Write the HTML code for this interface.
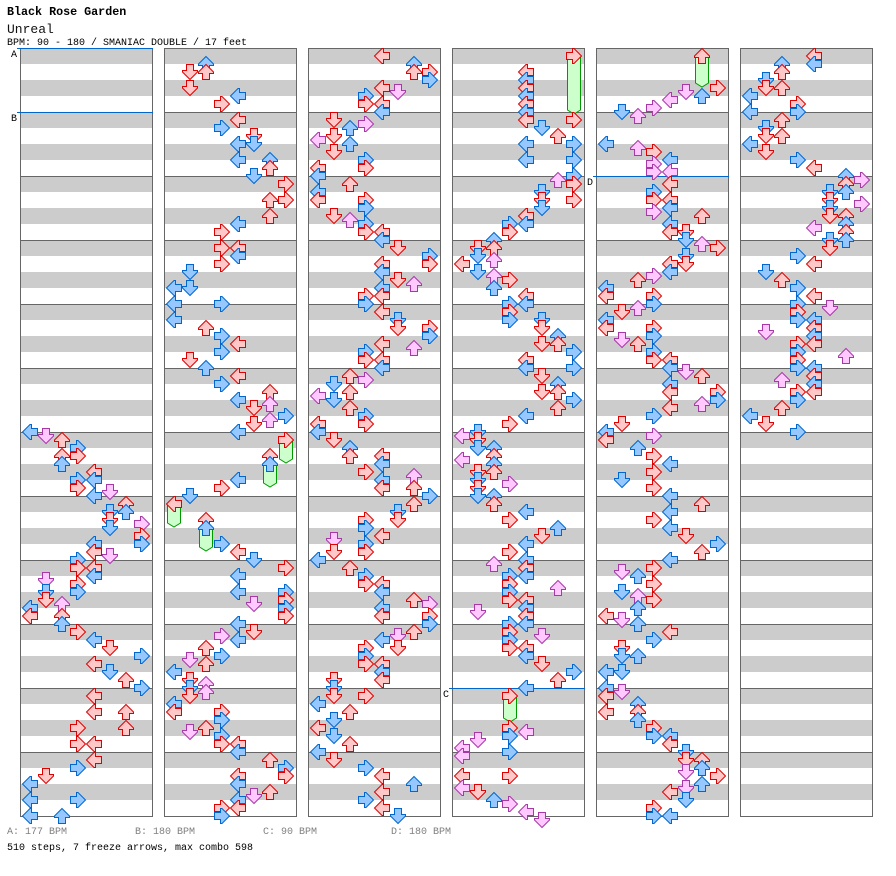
<!DOCTYPE html>
<html>
<head>
<meta charset="utf-8">
<style>
html,body{margin:0;padding:0;background:#fff;width:896px;height:876px;overflow:hidden}
svg{display:block}
text{font-family:"Liberation Mono","DejaVu Sans Mono",monospace}
</style>
</head>
<body>
<svg width="896" height="876" viewBox="0 0 896 876" xmlns="http://www.w3.org/2000/svg">
<defs>
<pattern id="st" x="0" y="48" width="1000" height="32" patternUnits="userSpaceOnUse"><rect width="1000" height="16" fill="#cccccc"/></pattern>
<pattern id="ml" x="0" y="48" width="1000" height="64" patternUnits="userSpaceOnUse"><rect width="1000" height="1" fill="#666666"/></pattern>
<g id="col">
<rect x="20" y="48" width="133" height="769" fill="#ffffff"/>
<rect x="20" y="48" width="133" height="768" fill="url(#st)"/>
<rect x="20" y="48" width="133" height="769" fill="url(#ml)"/>
<rect x="20.5" y="48.5" width="132" height="768" fill="none" stroke="#666666"/>
</g>
<path id="r" d="M0,-7.5L7.5,0V1.5H3.5V7.5H-3.5V1.5H-7.5V0Z" fill="#ffc8c8" stroke="#e00000"/>
<path id="b" d="M0,-7.5L7.5,0V1.5H3.5V7.5H-3.5V1.5H-7.5V0Z" fill="#96c8ff" stroke="#0066d0"/>
<path id="p" d="M0,-7.5L7.5,0V1.5H3.5V7.5H-3.5V1.5H-7.5V0Z" fill="#ffc8ff" stroke="#a838a8"/>
</defs>

<text x="7" y="15" font-size="11.7" font-weight="bold" fill="#000">Black Rose Garden</text>
<text x="7" y="33" font-size="13" fill="#111">Unreal</text>
<text x="7" y="45" font-size="10" fill="#000">BPM: 90 - 180 / SMANIAC DOUBLE / 17 feet</text>

<use href="#col" x="0"/>
<use href="#col" x="144"/>
<use href="#col" x="288"/>
<use href="#col" x="432"/>
<use href="#col" x="576"/>
<use href="#col" x="720"/>

<rect x="17" y="48" width="136" height="1" fill="#0066cc"/>
<rect x="17" y="112" width="136" height="1" fill="#0066cc"/>
<rect x="449" y="688" width="136" height="1" fill="#0066cc"/>
<rect x="593" y="176" width="136" height="1" fill="#0066cc"/>
<text x="11" y="57" font-size="10" fill="#000">A</text>
<text x="11" y="121" font-size="10" fill="#000">B</text>
<text x="443" y="697" font-size="10" fill="#000">C</text>
<text x="587" y="185" font-size="10" fill="#000">D</text>

<g id="arrows"></g>

<text x="7" y="834" font-size="10" fill="#808080">A: 177 BPM</text>
<text x="135" y="834" font-size="10" fill="#808080">B: 180 BPM</text>
<text x="263" y="834" font-size="10" fill="#808080">C: 90 BPM</text>
<text x="391" y="834" font-size="10" fill="#808080">D: 180 BPM</text>
<text x="7" y="850" font-size="10" fill="#000">510 steps, 7 freeze arrows, max combo 598</text>
</svg>

<script>
(function(){
var D = [
"432:0 436:1 440:2 448:3 456:23 464:2 472:4 480:34 488:3 492:5 496:4 504:6 512:56 520:5 524:7 528:5 536:7 544:47 552:4 556:5 560:3 568:34 576:4 580:1 584:3 592:13 600:1 604:2 608:0 616:02 624:2 632:3 640:4 648:5 656:7 664:4 672:5 680:6 688:7 696:4 712:46 728:36 744:34 760:4 768:3 776:1 784:0 800:03 816:02",
"64:2 72:12 88:1 96:4 104:3 120:4 128:3 136:5 144:45 160:46 168:6 176:5 184:7 200:67 216:6 224:4 232:3 248:34 256:4 264:3 272:1 288:01 304:03 320:0 328:2 336:3 344:4 352:3 360:1 368:2 376:4 384:3 392:6 400:4 404:6 408:5 416:7 420:6 424:5 432:4 440:7 456:6 464:6 480:4 488:3 496:1 504:0 520:2 528:2 544:3 552:4 560:5 568:7 576:4 592:47 600:7 604:5 608:7 616:7 624:4 632:5 636:3 640:4 648:2 656:3 660:1 664:2 672:0 680:1 684:2 688:1 692:2 696:1 704:0 712:03 720:3 728:2 732:1 736:3 744:34 752:4 760:6 768:7 776:47 784:4 792:6 796:5 800:4 808:34 816:3",
"56:4 64:6 72:67 80:7 88:4 92:5 96:3 104:34 112:4 120:1 124:3 128:2 136:1 140:0 144:2 152:1 160:3 168:03 176:0 184:2 192:0 200:03 208:3 216:1 220:2 224:3 232:34 240:4 248:5 256:7 264:47 272:4 280:5 284:6 288:4 296:34 304:3 312:4 320:5 328:57 336:7 344:4 348:6 352:3 360:34 368:4 376:2 380:3 384:1 392:2 396:0 400:1 408:2 416:3 424:03 432:0 440:1 448:2 456:24 464:4 472:3 476:6 480:4 488:46 496:7 504:6 512:5 520:35 528:3 536:4 540:1 544:3 552:13 560:0 568:2 576:3 584:34 592:4 600:6 604:7 608:4 616:47 624:7 632:6 636:5 640:4 648:35 656:3 664:34 672:4 680:14 688:1 696:13 704:0 712:2 720:1 728:0 736:1 744:2 752:0 760:1 768:3 776:4 784:6 792:4 800:3 808:4 816:5",
"56:7 72:4 80:4 88:4 96:4 104:4 112:4 120:47 128:5 136:6 144:47 160:47 176:7 180:6 184:7 192:5 200:57 208:5 216:4 224:34 232:3 240:2 248:12 256:1 260:2 264:0 272:1 276:2 280:3 288:2 296:4 304:34 312:3 320:35 328:5 336:6 344:56 352:7 360:4 368:47 376:5 384:6 392:56 400:7 408:6 416:4 424:3 432:1 436:0 440:1 448:12 456:2 460:0 464:2 472:12 480:1 484:3 488:1 496:12 504:2 512:4 520:3 528:6 536:5 544:4 552:3 560:4 564:2 568:4 576:34 584:3 588:6 592:3 600:34 608:4 612:1 616:4 624:34 632:3 636:5 640:3 648:34 656:4 664:5 672:7 680:6 688:4 696:3 728:3 732:4 736:3 740:1 748:0 752:3 756:0 776:03 788:0 792:1 800:2 804:3 812:4 820:5",
"56:6 88:7 92:5 96:6 100:4 108:3 112:1 116:2 144:0 148:2 152:3 160:4 164:3 172:34 184:4 192:3 200:34 208:4 212:3 216:6 224:4 232:45 240:5 244:6 248:7 256:5 264:45 272:4 276:3 280:2 288:0 296:03 304:3 308:2 312:1 320:0 328:03 336:3 340:1 344:2 352:3 360:34 368:4 372:5 376:6 384:4 392:47 400:7 404:6 408:4 416:3 424:1 432:0 436:3 440:0 448:2 456:3 464:4 472:3 480:1 488:3 496:4 504:6 512:4 520:3 528:4 536:5 544:7 552:6 560:4 568:3 572:1 576:2 584:3 592:1 596:2 600:3 608:2 616:0 620:1 624:2 632:4 640:3 648:1 656:12 672:01 688:0 692:1 696:0 704:2 712:02 720:2 728:3 736:34 744:4 752:5 760:56 768:6 772:5 776:7 784:6 788:5 792:4 800:5 808:3 816:34",
"56:4 64:24 72:2 80:1 88:12 96:0 104:3 112:03 120:2 128:1 136:12 144:0 152:1 160:3 168:4 176:6 180:7 184:6 192:56 200:5 204:7 208:5 216:56 224:6 228:4 232:6 240:56 248:5 256:3 264:4 272:1 280:2 288:3 296:4 304:3 308:5 312:3 320:34 328:4 332:1 336:4 344:34 352:3 356:6 360:3 368:34 376:4 380:2 384:4 392:34 400:3 408:2 416:0 424:1 432:3"
];
var F = [[1,7,440,463],[1,6,464,487],[1,0,504,527],[1,2,528,551],[3,7,56,114],[3,3,696,722],[4,6,56,87]];
var rot = [-90,180,0,90,-90,180,0,90];
var s = '';
F.forEach(function(f){
  var x = 30 + 144*f[0] + 16*f[1], y1 = f[2], y2 = f[3];
  s += '<path d="M'+(x-6.5)+','+y1+'V'+(y2-4)+'L'+x+','+y2+'L'+(x+6.5)+','+(y2-4)+'V'+y1+'Z" fill="#ccffcc" stroke="#009900"/>';
});
D.forEach(function(str,c){
  str.trim().split(/\s+/).forEach(function(tok){
    var parts = tok.split(':'), y = +parts[0], ls = parts[1];
    var m = y % 16, id = (m === 8) ? 'r' : (m === 0 ? 'b' : 'p');
    for (var i = 0; i < ls.length; i++) {
      var l = +ls.charAt(i);
      var x = 30 + 144*c + 16*l;
      s += '<use href="#'+id+'" transform="translate('+x+','+y+') rotate('+rot[l]+')"/>';
    }
  });
});
document.getElementById('arrows').innerHTML = s;
})();
</script>
</body>
</html>
